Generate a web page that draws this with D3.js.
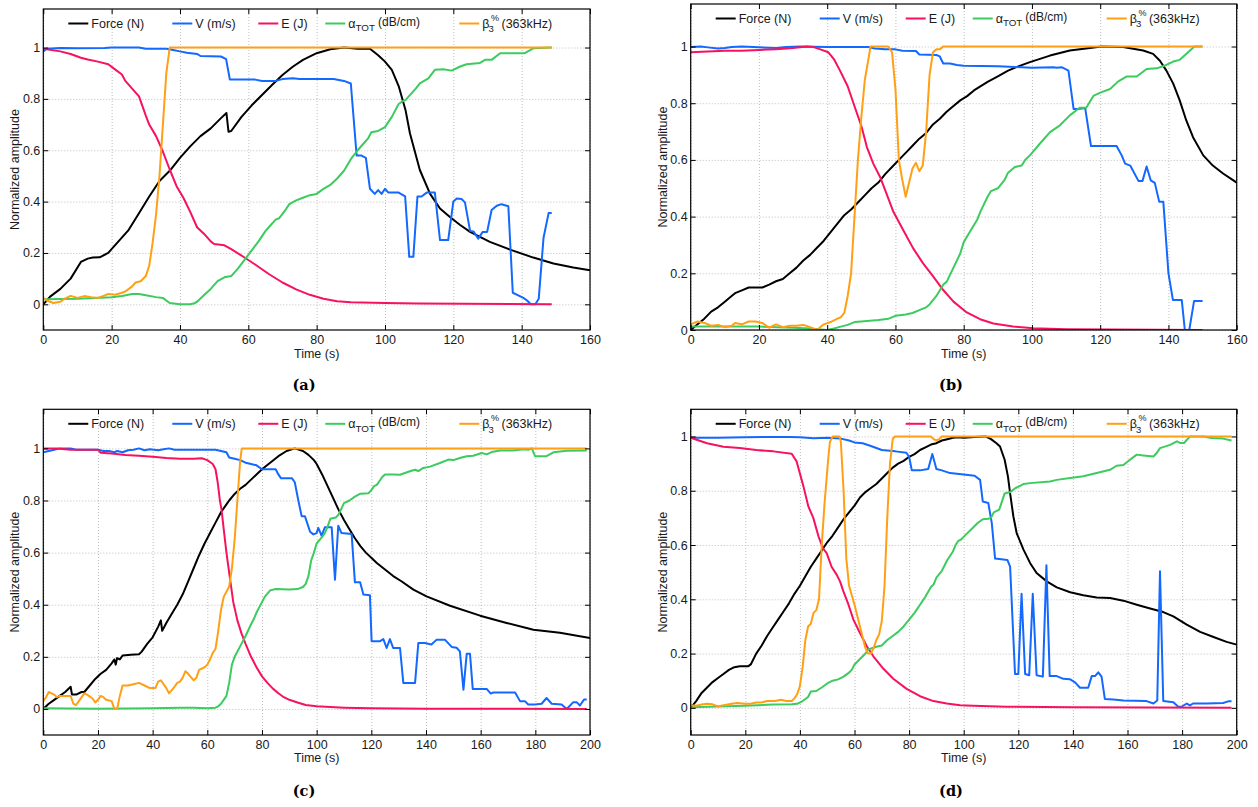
<!DOCTYPE html>
<html>
<head>
<meta charset="utf-8">
<script src="https://cdn.jsdelivr.net/npm/d3@7"></script>
<style>
  body { margin: 0; background: #fff; }
  svg { display: block; font-family: "Liberation Sans", Arial, sans-serif; }
  .grid line { stroke: #b8b8b8; stroke-dasharray: 1,2; stroke-width: 0.9; }
  .grid .domain { display: none; }
  .axis .domain { display: none; }
  .tick text { font-size: 12.5px; font-family: "Liberation Sans", Arial, sans-serif; fill: #1a1a1a; }
  .series { fill: none; stroke-width: 2; stroke-linejoin: round; }
  .lbl { font-size: 12.5px; fill: #1a1a1a; }
  .caption { font-family: "DejaVu Serif", serif; font-weight: bold; font-size: 14.5px; }
</style>
</head>
<body>
<svg id="chart" width="1258" height="807"></svg>
<script>
// Series values, as [time (s), normalized amplitude]

// ---- (a)
const aForce = [[0,0],[2,0.03],[5,0.06],[8,0.10],[11,0.165],[13,0.178],[14.5,0.182],[16.5,0.183],[19,0.2],[22,0.245],[25,0.29],[28,0.355],[31,0.42],[34,0.48],[37,0.52],[40,0.57],[43,0.615],[46,0.655],[49,0.685],[52,0.725],[53.6,0.745],[54.2,0.672],[55,0.675],[58,0.73],[61,0.775],[64,0.815],[67,0.855],[70,0.893],[73,0.925],[76,0.952],[80,0.978],[84,0.993],[88,1.0],[92,0.995],[95.6,0.995],[98,0.97],[100,0.945],[102,0.913],[104,0.85],[106,0.757],[107.3,0.666],[110.2,0.523],[113.2,0.43],[116.1,0.373],[119,0.34],[121.9,0.31],[124.9,0.282],[130.7,0.243],[136.6,0.213],[143.4,0.182],[149.3,0.159],[155.1,0.143],[160,0.133]];
const aV = [[0,0.985],[1,0.995],[5,0.998],[10,0.997],[18,0.998],[20,1.0],[28,1.0],[30,0.995],[36,0.995],[38,0.99],[40,0.985],[42,0.98],[45,0.975],[46,0.967],[52,0.965],[53.5,0.955],[54.6,0.875],[62,0.875],[64,0.87],[68,0.87],[70,0.877],[73,0.88],[75,0.877],[85,0.877],[88,0.87],[90,0.86],[91.7,0.58],[93,0.58],[94.4,0.57],[95.6,0.45],[97,0.43],[98,0.445],[99,0.43],[100,0.45],[101,0.435],[104,0.435],[105.9,0.42],[107.1,0.185],[108.3,0.185],[109.5,0.42],[110.7,0.42],[112.2,0.435],[114.6,0.435],[116.1,0.25],[118.5,0.25],[120,0.40],[121,0.412],[122.4,0.41],[123.4,0.397],[124.9,0.286],[125.9,0.284],[127.3,0.256],[128.6,0.282],[129.9,0.282],[131.2,0.367],[132.7,0.384],[134.1,0.39],[136.1,0.382],[137.4,0.045],[139,0.035],[140.5,0.025],[141.5,0.016],[142.7,0],[144,0],[145,0.022],[146.4,0.259],[147.9,0.356],[148.8,0.356]];
const aE = [[0,0.995],[5,0.985],[8,0.975],[11,0.96],[13,0.953],[16,0.945],[19,0.935],[21,0.915],[23,0.895],[24,0.87],[26,0.84],[28,0.81],[30,0.735],[31,0.7],[33,0.655],[35,0.595],[37,0.525],[39,0.46],[41,0.415],[43,0.36],[45,0.3],[47,0.275],[49,0.245],[50,0.235],[53,0.23],[55,0.215],[58,0.19],[62,0.155],[66,0.118],[70,0.085],[74,0.058],[78,0.037],[82,0.022],[86,0.012],[90,0.008],[100,0.005],[110,0.003],[148.8,0]];
const aAlpha = [[0,0.02],[10,0.022],[15,0.025],[20,0.028],[23,0.032],[26,0.04],[28,0.04],[30,0.035],[33,0.028],[35,0.025],[36,0.015],[37,0.005],[40,0],[43,0],[44,0.003],[45,0.01],[47,0.035],[49,0.06],[51,0.09],[53,0.105],[55,0.11],[57,0.14],[59,0.175],[61,0.21],[63,0.245],[65,0.285],[66,0.3],[68,0.33],[69,0.335],[71,0.37],[72,0.39],[74,0.405],[76,0.415],[78,0.425],[80,0.43],[81,0.44],[82,0.45],[84,0.465],[86,0.49],[88,0.52],[90,0.565],[92,0.6],[94,0.63],[95,0.645],[96,0.67],[98,0.675],[100,0.69],[102,0.73],[104,0.78],[105,0.79],[106,0.795],[108,0.825],[109,0.84],[110.2,0.86],[112.7,0.88],[114.6,0.913],[117.1,0.915],[119.5,0.91],[122,0.926],[123.9,0.935],[127.8,0.94],[129.3,0.952],[131.2,0.952],[133.7,0.978],[140.9,0.978],[143.4,0.997],[148.8,1.0]];
const aBeta = [[0,0.025],[1,0.015],[3,0.005],[5,0.01],[6,0.02],[8,0.033],[10,0.025],[12,0.032],[14,0.028],[16,0.025],[18,0.035],[19,0.04],[21,0.037],[23,0.045],[24,0.05],[26,0.07],[27,0.085],[28.5,0.09],[30,0.11],[31,0.15],[32,0.24],[33,0.35],[34,0.5],[35,0.7],[36,0.9],[37,1],[148.8,1]];

// ---- (b)
const bForce = [[0,0],[2,0.02],[4,0.04],[6,0.065],[8,0.08],[10,0.1],[12,0.12],[13,0.13],[15,0.14],[17,0.15],[21,0.15],[23,0.16],[25,0.172],[27,0.18],[29,0.2],[31,0.22],[33,0.245],[35,0.265],[37,0.29],[39,0.315],[41,0.345],[43,0.375],[45,0.405],[47,0.425],[49,0.45],[51,0.475],[53,0.5],[55,0.52],[57,0.55],[59,0.575],[61,0.6],[63,0.625],[65,0.65],[67,0.675],[69,0.695],[71,0.725],[73,0.745],[75,0.77],[77,0.79],[79,0.81],[81,0.825],[83,0.845],[85,0.86],[87,0.875],[90,0.895],[93,0.915],[96,0.93],[99.4,0.945],[105.3,0.968],[111.1,0.986],[117,0.995],[120.4,1.0],[126.7,0.998],[132.6,0.986],[135.5,0.974],[137.5,0.95],[139.4,0.915],[141.4,0.869],[143.3,0.81],[145.2,0.74],[147.2,0.68],[150.2,0.616],[153,0.58],[156,0.552],[160,0.52]];
const bV = [[0,0.998],[3,1.0],[5,0.997],[8,0.993],[10,0.995],[12,0.998],[15,1.0],[20,0.997],[25,0.995],[28,0.998],[32,1.0],[40,0.998],[48,0.998],[52,0.998],[54,0.993],[57,0.99],[60,0.99],[62,0.985],[66,0.984],[67,0.972],[72,0.97],[73,0.965],[74,0.94],[76,0.94],[78,0.935],[80,0.932],[90,0.93],[95,0.928],[100,0.925],[106.3,0.927],[107.2,0.925],[108.7,0.927],[110.7,0.915],[112.2,0.78],[113.6,0.78],[115.6,0.783],[117.3,0.649],[124.8,0.649],[126.3,0.616],[127.3,0.587],[128.8,0.58],[131.2,0.526],[132.4,0.526],[133.6,0.577],[134.8,0.528],[136,0.519],[137.3,0.452],[138.5,0.452],[140,0.2],[141.3,0.106],[143.9,0.106],[144.8,0],[146.1,0],[147.5,0.102],[150,0.102]];
const bE = [[0,0.98],[5,0.982],[10,0.985],[15,0.985],[20,0.988],[25,0.99],[30,0.995],[34,1.0],[36,0.998],[38,0.99],[40.3,0.98],[42,0.955],[43.75,0.915],[46,0.86],[47.7,0.8],[50.1,0.716],[51.6,0.646],[53.5,0.587],[55.5,0.54],[57.4,0.48],[59.4,0.417],[62.3,0.352],[65.2,0.288],[68.1,0.235],[71.1,0.188],[74,0.141],[77,0.1],[80.9,0.062],[84.8,0.038],[88.7,0.023],[94.5,0.012],[100.4,0.006],[110,0.003],[150,0]];
const bAlpha = [[0,0.012],[20,0.012],[30,0.008],[35,0.005],[38,0.002],[40,0],[42,0.005],[44,0.012],[46,0.018],[48,0.028],[50,0.03],[55,0.035],[58,0.04],[60,0.05],[63,0.055],[65,0.06],[67,0.07],[69,0.08],[70,0.09],[72,0.12],[74,0.16],[75,0.17],[77,0.22],[79,0.27],[80,0.31],[82,0.35],[84,0.39],[85,0.42],[87,0.47],[88,0.49],[90,0.5],[92,0.53],[93,0.555],[95,0.575],[97,0.58],[98,0.6],[99.4,0.616],[102.3,0.657],[105.3,0.698],[108.2,0.722],[111.1,0.757],[114,0.784],[115.9,0.784],[118.1,0.827],[120.4,0.839],[122.9,0.85],[125.3,0.877],[127.7,0.894],[130.7,0.894],[133.6,0.921],[136.6,0.923],[139.4,0.935],[141.4,0.947],[143.3,0.953],[145.2,0.974],[147.6,1.0],[150,1.0]];
const bBeta = [[0,0.02],[2,0.03],[4,0.025],[6,0.015],[8,0.018],[10,0.01],[12,0.015],[13,0.025],[15,0.02],[17,0.03],[19,0.03],[21,0.025],[23,0.008],[25,0.02],[27,0.01],[29,0.015],[31,0.015],[33,0.018],[35,0.01],[37,0],[39,0.02],[41,0.028],[43,0.04],[44,0.045],[45,0.06],[46,0.12],[47,0.2],[48,0.4],[49,0.6],[50,0.75],[51,0.88],[52,0.95],[52.7,1],[57.9,1],[59,0.98],[60,0.85],[61,0.6],[62,0.53],[63,0.47],[64,0.52],[65,0.57],[66,0.59],[67,0.56],[68,0.58],[69,0.7],[70,0.9],[71,0.98],[72,0.99],[73,0.99],[74,1],[150,1]];

// ---- (c)
const cForce = [[0,0],[2,0.02],[4,0.035],[6,0.05],[8,0.065],[10,0.085],[10.5,0.055],[12,0.055],[14,0.065],[15,0.065],[17,0.09],[19,0.115],[21,0.135],[23,0.15],[25,0.175],[26,0.19],[26.5,0.17],[27,0.195],[28,0.19],[29,0.205],[32,0.208],[35,0.21],[36,0.22],[38,0.25],[40,0.275],[42,0.315],[43,0.34],[43.5,0.3],[45,0.33],[47,0.365],[49,0.4],[51,0.44],[53,0.49],[55,0.54],[57,0.59],[59,0.635],[61,0.675],[63,0.715],[65,0.755],[67,0.785],[68,0.8],[70,0.825],[72,0.845],[74,0.86],[76,0.88],[78,0.9],[80,0.92],[83,0.945],[86,0.97],[89,0.99],[92,1.0],[95,0.99],[97,0.975],[99,0.955],[100,0.94],[102,0.9],[104,0.855],[106,0.81],[108,0.765],[110,0.725],[112,0.69],[114,0.655],[116,0.625],[118,0.6],[120,0.58],[122,0.56],[125,0.535],[128,0.51],[131,0.49],[135.4,0.458],[140.2,0.432],[148.8,0.396],[159.8,0.358],[169.5,0.33],[179.3,0.304],[189,0.292],[200,0.272]];
const cV = [[0,0.985],[2,0.99],[4,0.995],[6,1.0],[10,1.0],[12,0.995],[20,0.995],[22,0.99],[24,0.99],[26,0.985],[27,0.99],[29,0.985],[31,0.993],[33,0.995],[35,1.0],[37,0.993],[39,0.997],[42,0.993],[44,0.997],[46,1.0],[48,0.995],[63,0.995],[65,0.99],[67,0.985],[68,0.965],[70,0.96],[72,0.955],[74,0.945],[76,0.94],[78,0.935],[80,0.92],[85,0.92],[86,0.9],[87,0.885],[91,0.885],[92,0.87],[93.3,0.8],[94.5,0.74],[95.7,0.74],[97.6,0.68],[98.8,0.67],[100,0.675],[100.6,0.695],[101.8,0.665],[103,0.697],[105.5,0.697],[106.7,0.496],[107.9,0.703],[109.1,0.675],[112.8,0.671],[114,0.486],[115.9,0.486],[117.1,0.439],[119.5,0.436],[120.1,0.26],[123.2,0.26],[124.4,0.268],[125.6,0.234],[126.8,0.268],[128,0.234],[130.5,0.234],[131.7,0.1],[133.5,0.1],[136,0.1],[137.2,0.253],[139.6,0.253],[142,0.247],[143.9,0.266],[146.9,0.266],[149.4,0.238],[151.2,0.235],[152.4,0.221],[153.7,0.074],[154.9,0.212],[156.1,0.212],[157.1,0.077],[162.2,0.077],[163.7,0.059],[164.6,0.063],[172.6,0.063],[174.4,0.03],[176.2,0.03],[177.4,0.017],[179.9,0.017],[182.3,0.02],[184.1,0.042],[186,0.02],[189.6,0.017],[191.5,0],[193.9,0.026],[195.1,0.026],[196.3,0.013],[197.8,0.036],[198.8,0.036]];
const cE = [[0,1.0],[5,1.0],[10,0.995],[20,0.995],[21,0.983],[25,0.98],[30,0.975],[35,0.972],[40,0.968],[45,0.963],[50,0.96],[55,0.96],[58,0.962],[60,0.955],[62,0.94],[63,0.92],[63.8,0.87],[64.6,0.8],[65.2,0.765],[66,0.69],[67,0.6],[68.3,0.5],[69.5,0.41],[71,0.34],[72.5,0.29],[74,0.25],[76,0.2],[78,0.16],[80,0.125],[82,0.1],[84,0.078],[86,0.06],[88,0.045],[90,0.035],[93,0.025],[96,0.015],[100,0.01],[105,0.007],[110,0.005],[120,0.003],[140,0.001],[198.8,0]];
const cAlpha = [[0,0.003],[10,0.002],[20,0.001],[30,0.002],[40,0.003],[50,0.005],[55,0.005],[60,0.003],[63,0.005],[64,0.01],[65,0.02],[66,0.035],[67,0.05],[68,0.1],[69,0.17],[70,0.2],[72,0.24],[74,0.28],[76,0.325],[77,0.345],[78,0.37],[80,0.41],[81,0.43],[83,0.455],[85,0.46],[90,0.458],[93,0.46],[95,0.468],[96,0.48],[97,0.51],[98,0.57],[99,0.6],[100,0.635],[102,0.66],[103,0.675],[104,0.7],[105,0.73],[107,0.735],[108,0.745],[110,0.79],[112,0.8],[114,0.815],[116,0.826],[119,0.828],[120,0.84],[121,0.855],[122,0.86],[123,0.875],[124,0.89],[125,0.9],[128,0.9],[130.5,0.899],[134.1,0.912],[136,0.918],[137.2,0.913],[139,0.925],[141.5,0.93],[145.1,0.944],[148.2,0.957],[150,0.955],[152.4,0.963],[154.9,0.97],[157.3,0.972],[160.4,0.982],[162.2,0.977],[164,0.986],[167.1,0.992],[172,0.992],[175.6,0.997],[177.4,0.995],[178.7,1.0],[179.9,0.97],[184.1,0.97],[186.6,0.985],[191.5,0.991],[198.8,0.992]];
const cBeta = [[0,0.03],[1,0.045],[2,0.065],[3,0.06],[4,0.055],[5,0.045],[6,0.05],[10,0.05],[11,0.02],[12,0.015],[13,0.03],[15,0.06],[16,0.055],[18,0.04],[19,0.025],[20,0.035],[21,0.05],[22,0.045],[23,0.035],[25,0.03],[26,0],[27,0],[28,0.05],[29,0.09],[31,0.09],[33,0.095],[35,0.1],[37,0.09],[39,0.08],[41,0.08],[42,0.105],[43,0.11],[45,0.08],[46,0.06],[48,0.085],[49,0.1],[50,0.105],[51,0.12],[52,0.145],[53,0.135],[55,0.11],[56,0.12],[57,0.15],[59,0.16],[60,0.17],[61,0.19],[62,0.215],[63,0.23],[64,0.3],[65,0.38],[66,0.43],[68,0.47],[69,0.54],[70,0.65],[71,0.8],[72,0.95],[72.6,1],[198.8,1]];

// ---- (d)
const dForce = [[0,0],[2,0.025],[4,0.055],[6,0.075],[8,0.095],[10,0.11],[12,0.125],[14,0.14],[16,0.15],[18,0.153],[21,0.153],[22,0.16],[24,0.2],[26,0.23],[28,0.265],[30,0.295],[32,0.325],[34,0.355],[36,0.385],[38,0.42],[40,0.45],[42,0.485],[44,0.52],[46,0.55],[48,0.58],[50,0.61],[52,0.635],[54,0.665],[56,0.695],[58,0.72],[60,0.745],[62,0.775],[64,0.795],[66,0.81],[68,0.825],[70,0.845],[72,0.865],[74,0.885],[76,0.9],[78,0.91],[80,0.925],[82,0.935],[84,0.95],[86,0.96],[88,0.97],[90,0.975],[92,0.985],[94,0.99],[96,0.995],[98,0.997],[100,0.995],[104,0.998],[108,1.0],[110,0.99],[112,0.975],[113.3,0.963],[115,0.914],[116.2,0.853],[117,0.79],[118.2,0.705],[119.4,0.644],[121.9,0.583],[124.3,0.534],[126.7,0.497],[130.4,0.466],[134.1,0.444],[139,0.426],[143.8,0.415],[148.7,0.407],[153.6,0.405],[158.5,0.395],[163.4,0.38],[168.3,0.366],[173.1,0.353],[176.8,0.337],[181.7,0.307],[186.6,0.28],[191.5,0.261],[196.3,0.243],[200,0.233]];
const dV = [[0,0.995],[10,0.995],[20,0.997],[30,0.998],[36,0.998],[40,0.997],[45,0.993],[50,0.995],[55,0.992],[58,0.985],[60,0.978],[63,0.975],[66,0.965],[70,0.95],[75,0.945],[79,0.94],[80,0.925],[81,0.875],[84,0.875],[87,0.88],[88.5,0.935],[90,0.88],[92,0.875],[95,0.865],[100,0.86],[104,0.855],[106,0.84],[107,0.76],[109,0.755],[110.3,0.68],[111.5,0.55],[116,0.545],[117,0.52],[118.8,0.125],[120,0.125],[121.2,0.42],[122.5,0.125],[124,0.12],[125.3,0.42],[126.7,0.12],[129,0.115],[130.3,0.525],[131.5,0.117],[134.1,0.117],[136.5,0.107],[139,0.105],[140.8,0.094],[142.6,0.074],[145.6,0.074],[146.9,0.117],[148.1,0.117],[149.3,0.131],[150.5,0.115],[151.7,0.033],[154.8,0.031],[158.5,0.027],[167,0.025],[169.5,0.016],[170.9,0.027],[171.9,0.503],[173.1,0.025],[176.8,0.021],[178.6,0.004],[179.8,0.004],[181.7,0.016],[182.9,0.009],[184,0.016],[188.9,0.016],[195,0.018],[196.9,0.024],[198.1,0.024]];
const dE = [[0,0.995],[6,0.975],[12,0.962],[18,0.957],[24,0.95],[30.3,0.945],[37,0.936],[38.8,0.908],[41.3,0.816],[43.1,0.742],[44.9,0.7],[46.8,0.632],[48.4,0.589],[49.8,0.57],[51.6,0.52],[53.5,0.49],[54.7,0.466],[55.9,0.43],[57.8,0.38],[59.6,0.325],[62,0.276],[64.5,0.227],[66.9,0.19],[70.6,0.144],[74.2,0.107],[79.1,0.07],[84,0.043],[88.9,0.025],[93.8,0.016],[98.7,0.01],[103.5,0.008],[115.7,0.004],[140,0.002],[198.1,0]];
const dAlpha = [[0,0.002],[10,0.005],[20,0.008],[30,0.012],[37,0.013],[39,0.015],[41,0.025],[43,0.04],[44,0.06],[46,0.062],[48,0.075],[50,0.09],[52,0.1],[54,0.105],[56,0.115],[58,0.13],[59,0.14],[60,0.16],[62,0.18],[64,0.2],[65,0.215],[68,0.225],[70,0.23],[72,0.25],[74,0.265],[76,0.28],[78,0.3],[80,0.325],[82,0.35],[84,0.38],[86,0.41],[88,0.445],[89,0.455],[90,0.48],[92,0.505],[94,0.545],[96,0.575],[97,0.6],[98,0.615],[99,0.62],[101,0.64],[103,0.66],[105,0.68],[107,0.695],[109,0.697],[110,0.7],[111,0.72],[113,0.73],[114,0.76],[115,0.79],[117,0.795],[119,0.81],[121,0.82],[122,0.825],[124.3,0.828],[131.6,0.834],[134.1,0.84],[139,0.847],[143.8,0.853],[148.7,0.865],[153.6,0.877],[156,0.892],[158.5,0.895],[160.9,0.914],[163.4,0.933],[165.8,0.93],[169.5,0.926],[170.7,0.939],[171.9,0.957],[175.6,0.969],[178.1,0.982],[179.3,0.976],[180.7,0.976],[182.9,1.0],[187.8,1.0],[190.8,0.994],[195,0.992],[198.1,0.985]];
const dBeta = [[0,0.01],[2,0.008],[4,0.012],[6,0.015],[8,0.013],[10,0.005],[12,0.01],[15,0.015],[17,0.018],[20,0.015],[22,0.015],[24,0.02],[26,0.02],[28,0.025],[31,0.025],[33,0.03],[35,0.025],[37,0.025],[38,0.035],[39,0.05],[40,0.08],[41,0.15],[42,0.25],[43,0.3],[44,0.31],[45,0.35],[46,0.36],[47,0.4],[48,0.6],[49,0.75],[50.4,0.92],[51,0.98],[52,1],[54.5,1],[55,0.98],[56,0.8],[57,0.55],[58,0.45],[60,0.38],[62,0.3],[64,0.22],[65,0.2],[66,0.2],[67,0.22],[68,0.25],[69,0.27],[70,0.32],[71,0.45],[72,0.7],[73,0.9],[74,0.99],[74.8,1],[88,1],[89,0.99],[90,0.985],[91,0.99],[92,1],[198.1,1]];

const yTicks = [0, 0.2, 0.4, 0.6, 0.8, 1];
const seriesColors = ["#000000", "#1268ff", "#f7125e", "#3ccb5e", "#ffa014"];

const svg = d3.select("#chart");

// one entry per subplot; box edges are page pixels
const panels = [
  {id: "a", left: 43.3, right: 590, top: 9, bottom: 330, xMax: 160, yDom: [-0.1, 1.15], capX: 304, capY: 390,
   series: [aForce, aV, aE, aAlpha, aBeta]},
  {id: "b", left: 690.7, right: 1236.7, top: 4, bottom: 330, xMax: 160, yDom: [0, 1.15], capX: 951, capY: 390,
   series: [bForce, bV, bE, bAlpha, bBeta]},
  {id: "c", left: 43.3, right: 590, top: 409.3, bottom: 735, xMax: 200, yDom: [-0.1, 1.15], capX: 304, capY: 796,
   series: [cForce, cV, cE, cAlpha, cBeta]},
  {id: "d", left: 690.7, right: 1236.7, top: 409.3, bottom: 735, xMax: 200, yDom: [-0.1, 1.1], capX: 951, capY: 796,
   series: [dForce, dV, dE, dAlpha, dBeta]},
];

// legend item offsets from the left edge of the axes
const legendX = [25, 129, 215, 282, 416];

function legendLabel(g, i, x, y) {
  // plain labels
  if (i < 3) {
    g.append("text").attr("class", "lbl").attr("x", x).attr("y", y).attr("dy", "0.35em")
      .text(["Force (N)", "V (m/s)", "E (J)"][i]);
    return;
  }
  if (i === 3) {
    // alpha_TOT (dB/cm)
    const t = g.append("text").attr("class", "lbl").attr("x", x).attr("y", y).attr("dy", "0.35em");
    t.append("tspan").text("α");
    t.append("tspan").attr("dy", 3.5).attr("font-size", "9.8px").text("TOT");
    t.append("tspan").attr("dy", -5.5).attr("dx", 3).attr("font-size", "12px").text("(dB/cm)");
    return;
  }
  // beta_3^% (363kHz): sub and sup sit side by side after the beta
  const b = g.append("text").attr("class", "lbl").attr("x", x).attr("y", y).attr("dy", "0.35em").text("β");
  const bw = b.node().getComputedTextLength();
  g.append("text").attr("class", "lbl").attr("x", x + bw - 1).attr("y", y + 5.5).attr("dy", "0.35em")
    .style("font-size", "9.5px").text("3");
  g.append("text").attr("class", "lbl").attr("x", x + bw + 1.5).attr("y", y - 5.5).attr("dy", "0.35em")
    .style("font-size", "9px").text("%");
  g.append("text").attr("class", "lbl").attr("x", x + bw + 12).attr("y", y).attr("dy", "0.35em")
    .text("(363kHz)");
}

panels.forEach((p) => {
  const w = p.right - p.left,
        h = p.bottom - p.top,
        xTicks = d3.range(0, p.xMax + 1, 20);

  const x = d3.scaleLinear().domain([0, p.xMax]).range([0, w]),
        y = d3.scaleLinear().domain(p.yDom).range([h, 0]);

  const g = svg.append("g").attr("transform", `translate(${p.left},${p.top})`);

  // dotted grid
  g.append("g").attr("class", "grid").attr("transform", `translate(0,${h})`)
    .call(d3.axisBottom(x).tickValues(xTicks).tickSize(-h).tickFormat(""));
  g.append("g").attr("class", "grid")
    .call(d3.axisLeft(y).tickValues(yTicks).tickSize(-w).tickFormat(""));

  // data lines, clipped to the axes box
  g.append("clipPath").attr("id", `clip-${p.id}`)
    .append("rect").attr("width", w).attr("height", h);
  const plot = g.append("g").attr("clip-path", `url(#clip-${p.id})`);
  const line = d3.line().x((d) => x(d[0])).y((d) => y(d[1]));
  p.series.forEach((s, i) => {
    plot.append("path").attr("class", "series").attr("stroke", seriesColors[i]).attr("d", line(s));
  });

  // axes with inward ticks on all four sides
  g.append("g").attr("class", "axis").attr("transform", `translate(0,${h})`)
    .call(d3.axisBottom(x).tickValues(xTicks).tickSize(-5).tickSizeOuter(0).tickPadding(5));
  g.append("g").attr("class", "axis")
    .call(d3.axisLeft(y).tickValues(yTicks).tickSize(-5).tickSizeOuter(0).tickPadding(3).tickFormat(d3.format("~g")));
  g.append("g").attr("class", "axis")
    .call(d3.axisTop(x).tickValues(xTicks).tickSize(-5).tickSizeOuter(0).tickFormat(""));
  g.append("g").attr("class", "axis").attr("transform", `translate(${w},0)`)
    .call(d3.axisRight(y).tickValues(yTicks).tickSize(-5).tickSizeOuter(0).tickFormat(""));
  g.append("rect").attr("width", w).attr("height", h)
    .attr("fill", "none").attr("stroke", "#000").attr("stroke-width", 1.2);

  // legend row along the top
  const ly = 14.5;
  seriesColors.forEach((c, i) => {
    g.append("line").attr("x1", legendX[i]).attr("x2", legendX[i] + 20)
      .attr("y1", ly).attr("y2", ly).attr("stroke", c).attr("stroke-width", 2);
    legendLabel(g, i, legendX[i] + 23, ly);
  });

  // axis titles
  g.append("text").attr("class", "lbl").attr("x", w / 2).attr("y", h + 27.5)
    .attr("text-anchor", "middle").text("Time (s)");
  g.append("text").attr("class", "lbl")
    .attr("transform", `translate(-28.5,${h / 2}) rotate(-90)`)
    .attr("dy", "0.35em").attr("text-anchor", "middle").text("Normalized amplitude");

  // sub-figure caption
  svg.append("text").attr("class", "caption")
    .attr("x", p.capX).attr("y", p.capY)
    .attr("text-anchor", "middle").text(`(${p.id})`);
});
</script>
</body>
</html>
